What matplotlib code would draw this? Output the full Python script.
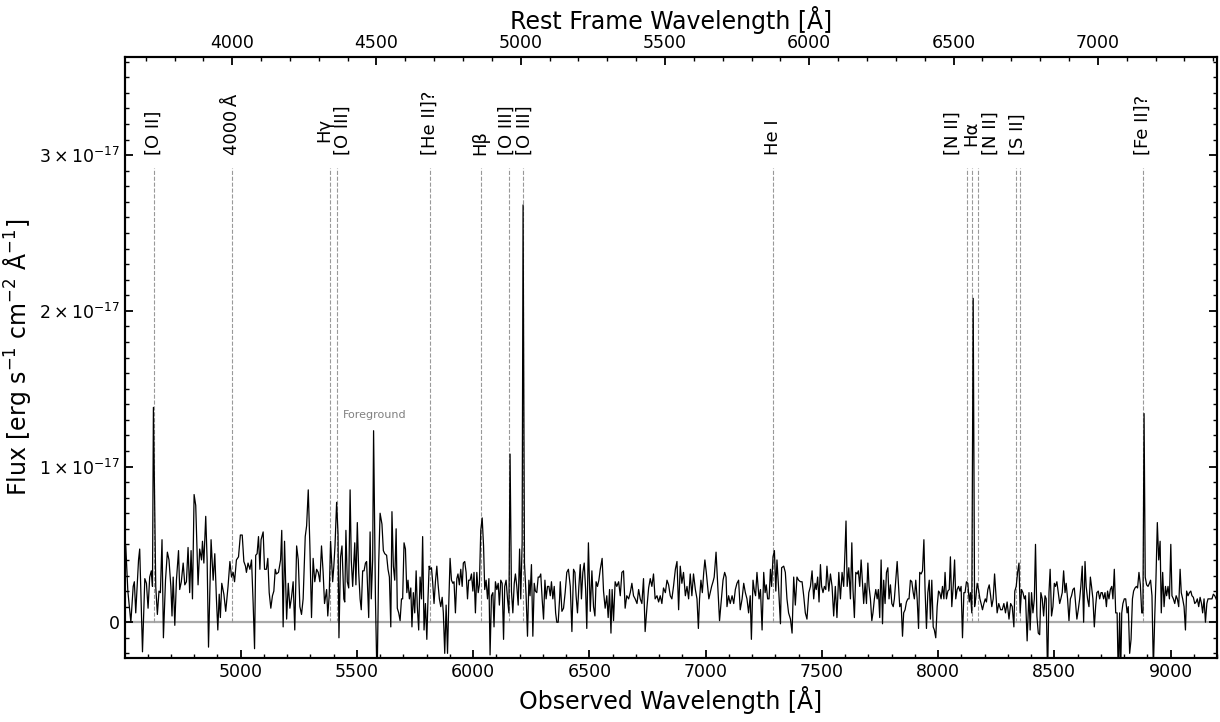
import numpy as np
import matplotlib
matplotlib.use('Agg')
from matplotlib import pyplot as plt
from matplotlib.ticker import MultipleLocator

z = 0.241

# observed wavelength [A] and flux [1e-18 erg/s/cm2/A]
wave = [4506, 4515, 4528, 4538, 4543, 4549, 4561, 4566, 4578, 4588, 4595, 4602, 4609, 4616, 4621, 4625, 4635, 4642, 4649, 4655,
        4662, 4668, 4677, 4685, 4692, 4700, 4705, 4710, 4717, 4724, 4733, 4738, 4745, 4753, 4760, 4767, 4774, 4781, 4787, 4793,
        4800, 4807, 4817, 4824, 4832, 4836, 4842, 4850, 4856, 4862, 4873, 4882, 4889, 4896, 4902, 4908, 4913, 4919, 4928, 4936,
        4946, 4954, 4961, 4968, 4974, 4982, 4991, 4999, 5007, 5014, 5021, 5025, 5032, 5040, 5047, 5054, 5060, 5065, 5071, 5077,
        5083, 5088, 5097, 5103, 5111, 5117, 5123, 5130, 5137, 5143, 5149, 5154, 5163, 5172, 5177, 5183, 5189, 5198, 5205, 5212,
        5219, 5226, 5233, 5241, 5248, 5255, 5262, 5269, 5278, 5284, 5291, 5298, 5305, 5312, 5319, 5327, 5334, 5341, 5348, 5355,
        5361, 5370, 5375, 5381, 5387, 5396, 5401, 5406, 5413, 5419, 5423, 5430, 5436, 5444,
        5448, 5453, 5459, 5465, 5471, 5476, 5482, 5491, 5496, 5502, 5508, 5514, 5519, 5525, 5531, 5537, 5542, 5548, 5551, 5557,
        5562, 5568, 5572, 5580, 5587, 5594, 5600, 5608, 5614, 5620, 5628, 5634, 5640, 5646, 5651, 5657, 5663, 5669, 5674, 5680,
        5686, 5692, 5697, 5703, 5709, 5715, 5720, 5726, 5732, 5737, 5743, 5749, 5755, 5760, 5766, 5772, 5778, 5783, 5789, 5795,
        5801, 5806, 5811, 5815, 5821, 5826, 5832, 5838, 5844, 5849, 5855, 5861, 5867, 5872, 5878, 5884, 5890, 5895, 5901, 5907,
        5913, 5918, 5924, 5930, 5935, 5941, 5947, 5953, 5958, 5964, 5970, 5976, 5981, 5987, 5993, 5999, 6004, 6010, 6016, 6022,
        6027, 6033, 6039, 6045, 6050, 6056, 6062, 6068, 6073, 6079, 6085, 6090, 6096, 6102, 6108, 6113, 6119, 6125, 6131, 6136,
        6142, 6148, 6154, 6159, 6165, 6171, 6177, 6182, 6188, 6194, 6200, 6205, 6211, 6215, 6221, 6228, 6234, 6240, 6245, 6251,
        6257, 6263, 6268, 6274, 6280, 6286, 6291, 6297, 6303, 6309, 6314, 6320, 6326, 6332, 6337, 6343, 6349, 6355, 6360, 6366,
        6372,
        6375, 6382, 6389, 6396, 6403, 6410, 6418, 6425, 6432, 6438, 6443, 6449, 6455, 6461, 6466, 6472, 6478, 6484, 6489, 6496,
        6504, 6511, 6518, 6524, 6529, 6535, 6541, 6547, 6555, 6561, 6568, 6575, 6581, 6587, 6593, 6598, 6604, 6611, 6618, 6626,
        6633, 6640, 6647, 6654, 6661, 6669, 6676, 6683, 6690, 6697, 6705, 6712, 6719, 6726, 6733, 6740, 6748, 6755, 6762, 6769,
        6776, 6783, 6791, 6798, 6805, 6812, 6819, 6827, 6834, 6841, 6848, 6855, 6862, 6870, 6877, 6884, 6891, 6898, 6905, 6913,
        6920, 6927, 6934, 6941, 6948, 6956, 6963, 6969, 6974, 6980, 6986, 6992, 6997, 7003, 7009, 7014, 7020, 7026, 7032, 7037,
        7045, 7052, 7060, 7068, 7075, 7082, 7088, 7092, 7099, 7106, 7114, 7121, 7128, 7135, 7142, 7149, 7157, 7164, 7171, 7178,
        7185, 7192, 7197, 7204, 7210, 7215, 7221, 7230, 7236, 7243, 7250, 7256, 7261, 7267, 7273, 7279, 7284, 7290, 7296, 7302,
        7307, 7314, 7322, 7327,
        7336, 7343, 7350, 7357, 7365, 7372, 7379, 7386, 7393, 7400, 7408, 7415, 7422, 7429, 7436, 7444, 7451, 7458, 7465, 7471,
        7476, 7482, 7488, 7494, 7499, 7505, 7511, 7517, 7522, 7530, 7537, 7544, 7551, 7558, 7565, 7573, 7580, 7587, 7594, 7600,
        7604, 7609, 7616, 7623, 7629, 7634, 7640, 7646, 7652, 7657, 7663, 7669, 7674, 7680, 7686, 7692, 7698, 7703, 7709, 7715,
        7720, 7726, 7732, 7738, 7743, 7749, 7755, 7761, 7766, 7772, 7778, 7784, 7789, 7795, 7801, 7807, 7812, 7818, 7824, 7830,
        7835, 7841, 7847, 7852, 7858, 7864, 7870, 7875, 7881, 7887, 7893, 7898, 7904, 7910, 7916, 7921, 7927, 7933, 7939, 7944,
        7950, 7956, 7962, 7967, 7973, 7979, 7984, 7990, 7996, 8002, 8007, 8013, 8019, 8025, 8030, 8036, 8042, 8048, 8053, 8059,
        8065, 8071, 8076, 8082, 8088, 8094, 8099, 8105, 8111, 8116, 8122, 8128, 8134, 8139, 8145, 8151, 8157, 8162, 8168, 8174,
        8180, 8185, 8191, 8197, 8203, 8208, 8214, 8220, 8226, 8231, 8237, 8243,
        8254, 8261, 8269, 8276, 8283, 8290, 8297, 8305, 8312, 8319, 8326, 8330, 8336, 8342, 8348, 8353, 8359, 8365, 8371, 8376,
        8383, 8391, 8396, 8402, 8408, 8414, 8419, 8425, 8431, 8437, 8442, 8448, 8454, 8460, 8465, 8471, 8477, 8482, 8488, 8494,
        8500, 8505, 8511, 8517, 8523, 8528, 8534, 8540, 8546, 8551, 8557, 8563, 8569, 8574, 8580, 8586, 8592, 8597, 8603, 8609,
        8614, 8620, 8626, 8632, 8637, 8643, 8649, 8655, 8660, 8666, 8672, 8678, 8683, 8689, 8695, 8701, 8706, 8712, 8718, 8724,
        8729, 8735, 8741, 8747, 8752, 8758, 8764, 8770, 8775, 8781, 8785, 8790, 8795, 8801, 8807, 8813, 8818, 8824, 8830, 8836,
        8841, 8847, 8853, 8858, 8864, 8870, 8876, 8881, 8886, 8891, 8897, 8903, 8909, 8914, 8920, 8926, 8932, 8937, 8943, 8949,
        8955, 8960, 8966, 8972, 8978, 8983, 8989, 8995, 9001, 9006, 9012, 9018, 9024, 9029, 9035, 9041, 9046, 9052, 9058, 9064,
        9069, 9075, 9081, 9087, 9092, 9098, 9104, 9110, 9115, 9121, 9127, 9133, 9138, 9144, 9150, 9156, 9161, 9167, 9173, 9178,
        9184, 9190, 9196, 9202]

flux = [4.9, 2.0, 0.0, 2.3, 2.6, 0.6, 4.0, 4.7, -1.9, 2.8, 2.5, 0.9, 2.9, 3.3, 2.3, 13.8, 2.3, 0.5, 2.0, 1.9,
        5.3, -1.0, 2.7, 4.5, 4.0, 2.3, 0.4, 2.9, -0.2, 2.7, 4.6, 2.1, 2.6, 3.8, 2.4, 2.6, 4.8, 1.9, 4.6, 1.5,
        8.2, 7.5, 2.4, 4.7, 4.0, 5.2, 3.8, 6.8, 4.0, -1.6, 5.3, 2.7, 4.4, 1.5, -0.5, 1.8, 0.3, 2.5, 1.8, 0.7,
        2.3, 3.9, 2.9, 3.2, 2.6, 4.0, 4.2, 5.6, 5.6, 3.9, 3.6, 3.2, 3.8, 3.4, 4.0, 1.2, -1.7, 4.3, 4.4, 5.5,
        3.4, 5.3, 5.8, 3.4, 3.4, 4.1, 1.9, 0.9, 1.7, 2.0, 3.4, 3.1, 3.2, 4.0, 5.9, -0.3, 5.2, 0.2, 2.5, 0.9,
        1.6, 2.6, -0.5, 4.9, 4.0, 1.0, 0.5, 1.5, 5.5, 6.2, 8.5, 4.9, 0.3, 4.1, 2.6, 3.4, 3.2, 2.6, 4.9, 3.2,
        1.2, 2.1, 0.4, 1.7, 5.2, 2.6, 3.6, 4.9, 7.7, 5.7, -1.0, 4.2, 4.9, 1.5,
        1.3, 5.9, 2.6, 2.2, 8.5, 4.0, 2.3, 5.1, 2.4, 6.4, 3.2, 1.5, 0.8, 3.3, 3.3, 3.8, 3.9, 1.5, 0.3, 5.8,
        1.5, 4.0, 12.3, 1.5, -4.0, 3.8, 7.0, 6.3, 4.6, 4.4, 4.3, 3.4, 2.9, -0.3, 7.1, 3.6, 2.7, 6.0, 0.9, 0.6,
        0.1, 1.5, 1.5, 5.1, 4.7, 1.9, 2.7, 1.5, 2.2, -0.3, 1.9, 0.6, 3.3, 1.0, -0.5, 2.9, 1.5, 5.5, -0.5, 1.2,
        -1.1, 1.5, 3.6, 3.4, 3.5, 2.6, 1.2, 2.6, 3.6, 2.5, 1.5, 1.0, 1.6, 0.6, -2.0, 1.1, -2.0, 1.0, 4.1, 2.7,
        2.5, 2.6, 0.6, 2.8, 3.1, 2.4, 3.4, 2.3, 3.8, 3.9, 3.2, 1.5, 2.7, 2.7, 3.1, 2.0, 3.2, 0.6, 3.2, 1.9,
        2.4, 5.9, 6.7, 4.9, 2.1, 2.7, 1.5, 2.8, -2.1, 1.7, 1.9, -0.3, 2.6, 2.1, 2.5, 1.1, 2.7, 2.5, -1.1, 2.3,
        2.7, 1.5, 0.6, 10.8, 2.0, 0.6, 2.5, 3.1, 2.3, 1.1, 4.7, 1.5, 5.1, 26.8, 3.8, 1.7, -0.9, 2.7, 1.7, 3.7,
        -0.9, 2.5, 2.0, 1.9, 2.9, 2.9, 3.1, 1.5, 0.2, 2.7, 1.5, 2.3, 2.3, 1.7, 2.6, 1.5, 2.3, 0.6, 0.0, 0.0,
        1.5,
        2.6, 0.7, 0.9, 1.9, 3.2, 3.4, 2.3, -0.6, 3.4, 3.2, 1.7, 0.6, 2.3, 3.7, 1.5, 3.2, 3.8, 2.1, -0.4, 5.1,
        0.7, 3.3, 1.0, 0.4, 2.6, 2.3, 2.7, 3.4, 4.1, 2.0, 0.9, 1.7, 0.3, 2.1, -0.7, 2.1, 0.1, 2.6, 2.3, 2.6,
        1.7, 3.2, 3.3, 0.9, 1.7, 1.5, 1.9, 2.5, 1.7, 1.5, 1.2, 2.1, 1.5, 1.2, 2.8, -0.6, 1.0, 2.2, 2.8, 2.3,
        3.1, 1.5, 1.7, 1.3, 1.7, 1.2, 2.2, 1.9, 2.7, 2.4, 1.7, 1.5, 2.3, 3.4, 3.9, 0.8, 3.6, 2.5, 3.2, 1.7,
        2.3, 1.5, 3.1, 1.7, 3.1, 2.1, 1.5, -0.4, 1.5, 2.7, 1.9, 3.2, 4.0, 3.2, 2.3, 1.5, 1.9, 2.3, 2.6, 2.9,
        4.5, 2.5, 0.1, 1.5, 2.7, 3.2, 2.9, 1.0, 1.7, 1.2, 1.7, 1.2, 2.1, 2.5, 2.7, 0.8, 1.5, 2.5, 1.9, 1.5,
        0.6, 1.7, -1.1, 2.7, 2.0, 1.7, 3.2, 1.5, 2.1, -0.5, 3.2, 1.9, 2.4, 1.5, 1.5, 3.4, 2.3, 4.2, 4.6, 2.0,
        4.0, 2.2, -0.1, 3.5,
        3.6, 3.2, 1.5, 0.6, 0.2, -0.7, 2.9, 1.1, 2.9, 2.7, 2.6, 2.6, 1.7, 0.6, 0.2, 1.9, 2.3, 3.3, 1.5, 2.5,
        2.1, 2.9, 1.3, 3.7, 2.3, 1.9, 2.3, 2.1, 3.6, 2.0, 3.1, 2.3, 0.4, 2.3, 0.3, 3.2, 1.5, 3.2, 2.3, 4.7,
        6.5, 2.3, 3.5, 1.5, 5.1, 2.1, 0.3, 3.2, 3.1, 3.3, 2.3, 4.0, 2.7, 1.2, 2.5, 1.2, 3.8, 2.3, 1.5, 0.1,
        0.6, 1.5, 2.1, 1.5, 2.1, 0.3, 4.0, -0.1, 2.7, 1.2, 3.2, 3.5, 1.5, 2.4, 1.2, 1.0, 1.5, 2.7, 3.9, 2.3,
        1.0, 1.2, -0.9, 0.6, 0.8, 1.3, 1.5, 1.5, 2.7, 2.6, 1.9, 1.5, 2.7, 1.5, -0.4, 3.2, 3.1, 3.3, 5.3, 2.1,
        -0.4, 1.9, 2.7, 0.2, 2.7, -0.3, -0.5, -1.0, 1.0, 2.0, 1.9, 1.5, 2.3, 1.5, 3.2, 1.5, 2.0, 2.1, 4.2, 1.0,
        2.3, 4.0, 1.5, 2.1, 2.3, 2.0, 2.3, -1.0, 1.9, 1.9, 2.6, 2.5, 1.3, 1.9, 0.6, 20.8, 1.0, 1.5, 2.5, 2.1,
        1.5, 1.2, 0.8, 1.2, 1.5, 1.3, 2.1, 2.4, 1.7, 1.0, 1.5, 3.1,
        0.6, 1.2, 0.8, 0.8, 1.2, 0.6, 1.3, 0.2, 1.2, 1.0, -0.3, 2.0, 2.3, 3.2, 3.8, 0.6, 2.1, 1.9, 1.5, 1.7,
        -1.2, 1.9, -0.5, 1.9, 0.6, 1.5, 5.0, 0.4, -0.7, -0.8, 1.9, 1.5, 0.4, 1.7, 1.5, -3.5, 1.9, 3.4, 0.4, 1.0,
        2.5, 2.3, 2.6, 1.9, 1.2, 1.5, 1.9, 3.3, 1.9, 2.5, 1.5, 0.1, 1.5, 1.7, 2.1, 2.2, 1.1, 0.2, 0.8, 1.5,
        2.3, 3.6, 0.0, 3.9, 2.3, 1.5, 1.0, 2.9, 2.3, 1.5, -0.3, 1.1, 1.9, 2.0, 1.5, 1.9, 1.9, 1.5, 1.9, 1.0,
        2.0, 1.5, 2.1, 2.3, 1.5, 3.4, 0.6, 0.6, -3.5, 0.6, -3.5, 0.6, 1.2, 1.5, 1.5, 0.6, 1.0, -2.0, -1.1, 1.5,
        2.0, 2.2, 2.3, 2.2, 3.2, 2.4, 0.6, 0.6, 13.4, 2.9, 2.4, 2.3, 2.5, 2.7, 1.7, -3.0, 0.4, 2.7, 6.4, 4.0,
        5.2, 0.6, 3.2, 1.0, 2.3, 1.7, 2.3, 1.5, 5.0, 1.7, 1.5, 1.2, 1.7, 1.5, 1.0, 3.4, 1.9, 1.5, 1.0, -0.5,
        2.0, 1.7, 1.9, 2.0, 1.7, 1.6, 1.2, 1.3, 1.5, 1.0, 1.6, 1.2, 0.6, 1.5, 0.0, 1.2, 1.5, 1.5, 1.5, 1.5,
        1.8, 1.7, 1.5, 1.3]

# rest-frame lines: dashed markers
line_rest = [3727.4, 4000.0, 4340.5, 4363.2, 4686.0, 4861.3, 4958.9, 5006.8, 5875.6,
             6548.1, 6562.8, 6583.5, 6716.4, 6730.8, 7155.0]
label_text = ['[O II]', '4000\u2009Å', 'Hγ\n[O III]', '[He II]?', 'Hβ', '[O III]\n[O III]',
              'He I', '[N II]\nHα\n[N II]', '[S II]', '[Fe II]?']
label_rest = [3727.4, 4000.0, 4351.8, 4686.0, 4861.3, 4982.9, 5875.6, 6562.8, 6723.6, 7155.0]

xmin, xmax = 4503, 9200

fig = plt.figure(figsize=(12.2, 7.22), dpi=100)
ax = fig.add_axes([0.1025, 0.0886, 0.8951, 0.8324])

ax.axhline(0, color='#aaaaaa', lw=1.6, zorder=1)
for lr in line_rest:
    ax.plot([lr * (1 + z)] * 2, [0, 2.92e-17], ls='--', color='#999999', lw=0.8, zorder=1)
for t, lr in zip(label_text, label_rest):
    ax.text(lr * (1 + z), 3.0e-17, t, rotation=90, ha='center', va='bottom',
            fontsize=13, linespacing=1.05)
ax.plot(wave, np.array(flux) * 1e-18, color='k', lw=0.9, zorder=2)
ax.text(5577, 1.33e-17, 'Foreground', fontsize=8, color='grey', ha='center', va='center')

ax.set_xlim(xmin, xmax)
ax.set_ylim(-2.3e-18, 3.63e-17)
ax.xaxis.set_major_locator(MultipleLocator(500))
ax.xaxis.set_minor_locator(MultipleLocator(100))
ax.set_yticks([0, 1e-17, 2e-17, 3e-17])
ax.set_yticklabels(['0', r'$1\times10^{-17}$', r'$2\times10^{-17}$', r'$3\times10^{-17}$'])
ax.yaxis.set_minor_locator(MultipleLocator(1e-18))
ax.tick_params(which='both', direction='in', top=False, right=True, labelsize=12.5)
ax.tick_params(which='major', length=6, width=1.3)
ax.tick_params(which='minor', length=3, width=1.0)
ax.set_xlabel('Observed Wavelength [Å]', fontsize=17)
ax.set_ylabel('Flux [erg s$^{-1}$ cm$^{-2}$ Å$^{-1}$]', fontsize=17)

ax2 = ax.twiny()
ax2.set_xlim(xmin / (1 + z), xmax / (1 + z))
ax2.xaxis.set_major_locator(MultipleLocator(500))
ax2.xaxis.set_minor_locator(MultipleLocator(100))
ax2.tick_params(which='both', direction='in', labelsize=12.5)
ax2.tick_params(which='major', length=6, width=1.3)
ax2.tick_params(which='minor', length=3, width=1.0)
ax2.set_xlabel('Rest Frame Wavelength [Å]', fontsize=17)

for a in (ax, ax2):
    for s in a.spines.values():
        s.set_linewidth(1.5)

fig.savefig('out.png', dpi=100)
